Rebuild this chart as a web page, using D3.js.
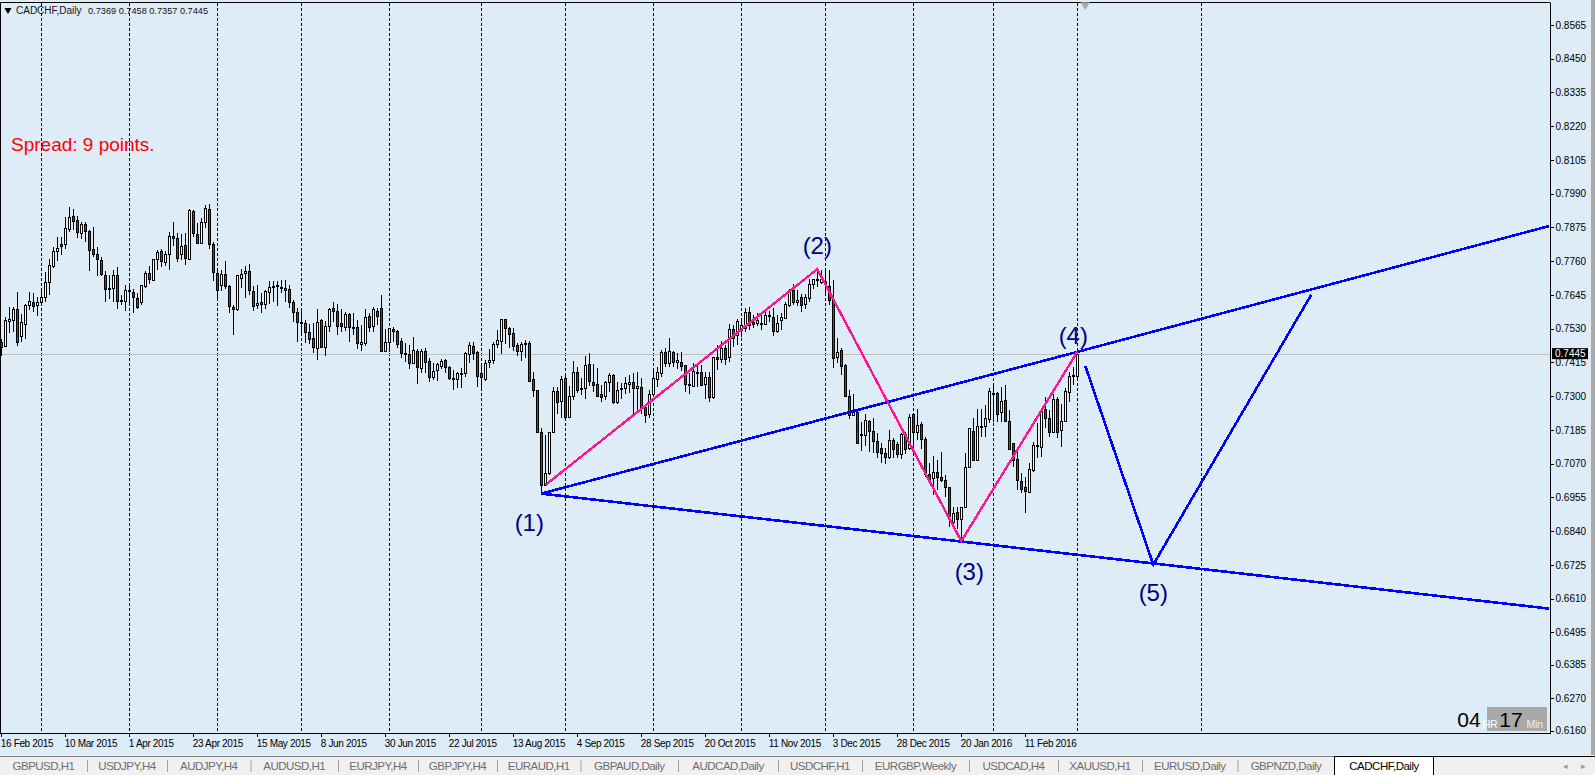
<!DOCTYPE html>
<html>
<head>
<meta charset="utf-8">
<script src="https://d3js.org/d3.v7.min.js"></script>
<style>
html,body{margin:0;padding:0;background:#f0f0f0;overflow:hidden}
svg{display:block}
text{font-family:"Liberation Sans",Arial,sans-serif}
.axis_g path,.axis_g line{stroke:#000;shape-rendering:crispEdges}
.axis_g text{font-size:10px;fill:#000;font-family:"Liberation Sans",Arial,sans-serif}
.time_axis text{letter-spacing:-0.35px}
.tab{letter-spacing:-0.5px}
</style>
</head>
<body>
<svg id="chart" width="1595" height="775"></svg>
<script>
// CADCHF daily candles, prices in pips (1/10000)
const opens = [7486,7472,7554,7560,7597,7503,7546,7609,7620,7609,7622,7637,7687,7744,7793,7819,7818,7871,7913,7900,
7855,7886,7862,7801,7784,7763,7712,7669,7667,7712,7628,7622,7661,7654,7634,7619,7674,7719,7696,7767,
7794,7759,7784,7845,7838,7784,7814,7768,7930,7852,7823,7893,7937,7817,7719,7677,7716,7674,7603,7596,
7704,7718,7726,7660,7609,7620,7613,7653,7674,7678,7671,7668,7664,7620,7586,7554,7548,7518,7497,7463,
7560,7469,7540,7599,7589,7548,7537,7580,7535,7536,7476,7482,7573,7537,7591,7599,7452,7482,7528,7521,
7488,7446,7443,7412,7454,7397,7454,7420,7367,7387,7404,7422,7398,7362,7357,7380,7378,7443,7472,7452,
7378,7360,7415,7423,7477,7486,7562,7531,7514,7474,7452,7480,7480,7357,7320,7177,6996,7037,7177,7318,
7281,7361,7230,7302,7381,7327,7327,7408,7350,7340,7306,7298,7346,7371,7278,7328,7327,7344,7347,7327,
7333,7264,7237,7306,7359,7380,7450,7412,7450,7419,7415,7406,7336,7334,7381,7384,7341,7365,7296,7432,
7427,7465,7431,7528,7507,7525,7531,7586,7554,7550,7551,7546,7575,7569,7520,7562,7566,7611,7662,7620,
7639,7613,7637,7681,7698,7692,7693,7675,7628,7434,7457,7406,7300,7236,7245,7170,7168,7215,7180,7146,
7122,7105,7090,7149,7137,7104,7171,7121,7238,7178,7205,7154,7035,7020,7041,7023,7014,6989,6872,6904,
6880,6921,7057,7181,7083,7200,7198,7221,7312,7311,7245,7286,7217,7139,7086,7011,6989,6972,7046,7132,
7128,7256,7227,7178,7292,7183,7214,7316,7372,7369];
const highs = [7495,7571,7603,7603,7655,7580,7613,7654,7651,7639,7657,7722,7768,7808,7842,7842,7910,7944,7938,7914,
7893,7893,7867,7876,7808,7776,7727,7713,7730,7739,7645,7679,7679,7664,7651,7679,7727,7744,7767,7799,
7802,7795,7861,7893,7855,7853,7855,7937,7933,7889,7906,7951,7954,7824,7730,7730,7761,7679,7611,7713,
7734,7744,7750,7676,7679,7651,7662,7694,7694,7694,7696,7696,7679,7628,7599,7599,7560,7545,7548,7597,
7563,7557,7599,7620,7614,7597,7586,7585,7582,7560,7543,7597,7582,7603,7599,7645,7529,7534,7537,7526,
7497,7480,7474,7503,7461,7461,7463,7429,7412,7412,7427,7426,7403,7389,7384,7395,7452,7484,7486,7455,
7412,7423,7461,7484,7526,7563,7564,7537,7531,7482,7484,7492,7488,7381,7321,7190,7168,7179,7330,7330,
7370,7369,7335,7420,7398,7361,7437,7446,7409,7395,7338,7352,7378,7374,7349,7344,7366,7372,7378,7383,
7361,7275,7321,7395,7398,7459,7463,7497,7454,7446,7449,7406,7378,7412,7406,7406,7383,7381,7434,7474,
7489,7474,7546,7542,7563,7565,7601,7603,7576,7582,7588,7596,7591,7599,7576,7582,7622,7667,7682,7662,
7648,7647,7698,7701,7732,7730,7728,7730,7696,7500,7463,7408,7321,7306,7253,7213,7241,7219,7224,7175,
7139,7122,7185,7156,7145,7175,7179,7241,7241,7255,7213,7162,7071,7096,7082,7111,7031,6991,6923,6923,
6923,7105,7190,7224,7255,7255,7270,7329,7335,7315,7332,7338,7253,7141,7111,7037,7026,7071,7145,7207,
7258,7298,7253,7309,7298,7275,7327,7383,7400,7458];
const lows = [7438,7466,7517,7520,7472,7486,7495,7594,7588,7574,7608,7622,7645,7738,7761,7781,7803,7858,7867,7838,
7836,7827,7725,7776,7708,7708,7622,7630,7622,7597,7611,7592,7611,7585,7596,7611,7668,7683,7694,7730,
7739,7744,7730,7812,7759,7764,7747,7764,7844,7819,7819,7872,7802,7694,7633,7657,7664,7582,7510,7592,
7668,7636,7645,7592,7596,7582,7596,7614,7622,7608,7651,7622,7599,7554,7486,7511,7482,7478,7448,7423,
7463,7437,7520,7554,7509,7520,7523,7486,7509,7460,7454,7472,7520,7520,7543,7452,7452,7452,7486,7463,
7429,7418,7392,7410,7342,7378,7380,7350,7355,7353,7392,7378,7355,7321,7327,7327,7367,7412,7423,7332,
7325,7352,7397,7410,7463,7444,7478,7463,7454,7437,7420,7429,7351,7298,7176,6963,6996,7031,7176,7241,
7224,7224,7224,7287,7310,7304,7292,7334,7315,7296,7281,7287,7315,7275,7275,7292,7307,7310,7241,7247,
7241,7207,7224,7298,7332,7366,7398,7400,7400,7391,7387,7315,7307,7332,7332,7334,7292,7281,7289,7389,
7412,7406,7417,7469,7474,7503,7520,7525,7531,7539,7525,7542,7554,7506,7516,7525,7565,7605,7611,7607,
7588,7596,7622,7667,7671,7684,7650,7611,7397,7412,7372,7302,7222,7232,7136,7113,7130,7111,7107,7091,
7071,7068,7085,7088,7088,7085,7103,7116,7122,7150,7119,7026,7014,6963,6980,7008,6957,6853,6855,6849,
6810,6918,7054,7080,7082,7162,7162,7207,7213,7213,7213,7213,7116,7060,6980,6969,6901,6971,7043,7088,
7094,7190,7162,7173,7158,7128,7211,7281,7338,7357];
const closes = [7469,7560,7562,7597,7483,7552,7611,7624,7605,7620,7639,7688,7746,7794,7804,7813,7872,7912,7895,7859,
7887,7862,7797,7784,7767,7714,7664,7664,7712,7622,7626,7661,7657,7637,7603,7678,7719,7697,7767,7791,
7759,7785,7845,7837,7769,7812,7769,7935,7854,7823,7893,7941,7818,7722,7661,7716,7674,7607,7596,7712,
7716,7726,7660,7609,7617,7612,7657,7671,7670,7676,7668,7660,7619,7586,7551,7551,7518,7494,7465,7552,
7469,7539,7597,7588,7537,7537,7580,7534,7534,7480,7484,7571,7537,7596,7574,7452,7484,7531,7520,7477,
7446,7445,7412,7457,7401,7454,7418,7367,7386,7409,7420,7397,7360,7357,7378,7379,7446,7474,7448,7369,
7364,7413,7422,7478,7490,7562,7530,7511,7469,7452,7477,7477,7351,7319,7176,6998,7037,7177,7318,7281,
7357,7227,7300,7383,7319,7323,7407,7349,7340,7298,7296,7347,7371,7278,7320,7327,7344,7350,7325,7334,
7264,7237,7306,7361,7384,7450,7414,7454,7417,7425,7400,7342,7340,7386,7380,7338,7365,7298,7432,7425,
7463,7429,7528,7497,7556,7542,7586,7542,7546,7559,7549,7576,7572,7521,7548,7571,7613,7662,7620,7628,
7613,7637,7684,7698,7695,7701,7684,7628,7431,7450,7404,7302,7235,7246,7139,7166,7218,7182,7145,7108,
7105,7091,7149,7120,7103,7171,7119,7228,7178,7202,7153,7035,7016,7040,7023,7014,6991,6889,6901,6880,
6921,7057,7190,7083,7198,7198,7224,7316,7310,7241,7282,7215,7120,7080,7013,6985,6974,7052,7132,7130,
7253,7227,7180,7290,7180,7214,7316,7369,7370,7445];

const priceTicks = [6160,6270,6385,6495,6610,6725,6840,6955,7070,7185,7300,7415,7530,7645,7760,7875,7990,8105,8220,8335,8450,8565];
const dateLabels = ["16 Feb 2015","10 Mar 2015","1 Apr 2015","23 Apr 2015","15 May 2015","8 Jun 2015","30 Jun 2015","22 Jul 2015","13 Aug 2015","4 Sep 2015","28 Sep 2015","20 Oct 2015","11 Nov 2015","3 Dec 2015","28 Dec 2015","20 Jan 2016","11 Feb 2016"];
const separatorBars = [10,32,54,75,97,120,141,163,185,206,228,248,269,300];
const tabNames = ["GBPUSD,H1","USDJPY,H4","AUDJPY,H4","AUDUSD,H1","EURJPY,H4","GBPJPY,H4","EURAUD,H1","GBPAUD,Daily","AUDCAD,Daily","USDCHF,H1","EURGBP,Weekly","USDCAD,H4","XAUUSD,H1","EURUSD,Daily","GBPNZD,Daily","CADCHF,Daily"];
const tabEdges = [0,87,167,250.5,338,418,497,580.5,678,778,862,969,1058,1142,1237.5,1334.5,1433.5];

// drawn objects, [bar, price]
const channelTop = [[135,6968],[269,7451],[387,7880]];
const channelBottom = [[135,6968],[387,6576]];
const waveBlue = [[271,7403],[288,6726],[327.5,7646]];
const wavePink = [[136,6997],[204,7733],[240,6806],[269,7451]];
const waveLabels = [["(1)",132,6870],["(2)",204,7812],["(3)",242,6703],["(4)",268,7505],["(5)",288,6629]];

const lastPrice = closes[closes.length-1];
const ohlcText = [opens,highs,lows,closes].map(a=>(a[a.length-1]/10000).toFixed(4)).join(" ");

const bg = "#deecf8";
const plotRight = 1550.5, plotBottom = 733.5, plotTop = 2.5;

const svg = d3.select("#chart");
svg.append("rect").attr("width",1591).attr("height",755).attr("fill",bg);
svg.append("rect").attr("x",1591).attr("width",4).attr("height",755).attr("fill","#a9a9a9");

const x_scale = d3.scaleLinear().domain([0,387]).range([1.3,1549.3]);
const y_scale = d3.scaleLinear().domain([6160,8565]).range([730.7,25]);
const fmt = d => (d/10000).toFixed(4);

// period separators
svg.selectAll(".sep").data(separatorBars).join("line")
  .attr("class","sep")
  .attr("x1",d=>Math.round(x_scale(d))+0.5).attr("x2",d=>Math.round(x_scale(d))+0.5)
  .attr("y1",plotTop).attr("y2",plotBottom)
  .attr("stroke","#000").attr("stroke-dasharray","3,2").attr("shape-rendering","crispEdges");

// bid line
svg.append("line").attr("x1",0).attr("x2",plotRight)
  .attr("y1",Math.round(y_scale(lastPrice))+0.5).attr("y2",Math.round(y_scale(lastPrice))+0.5)
  .attr("stroke","#c0c0c0").attr("shape-rendering","crispEdges");

// candles
const candles = svg.append("g").selectAll("g").data(d3.range(opens.length)).join("g");
candles.append("line")
  .attr("x1",i=>Math.round(x_scale(i))+0.5).attr("x2",i=>Math.round(x_scale(i))+0.5)
  .attr("y1",i=>y_scale(highs[i])).attr("y2",i=>y_scale(lows[i]))
  .attr("stroke","#000").attr("shape-rendering","crispEdges");
candles.append("rect")
  .attr("x",i=>Math.round(x_scale(i))-0.5)
  .attr("width",2)
  .attr("y",i=>Math.round(y_scale(Math.max(opens[i],closes[i])))+0.5)
  .attr("height",i=>Math.max(1,Math.round(Math.abs(y_scale(opens[i])-y_scale(closes[i])))))
  .attr("fill",i=>closes[i]>=opens[i]?"#fff":"#505050")
  .attr("stroke","#000").attr("shape-rendering","crispEdges");

// axes
const pxAxis = d3.axisRight(y_scale).tickValues(priceTicks).tickFormat(fmt).tickSize(3).tickPadding(2);
svg.append("g").attr("class","axis_g").attr("transform",`translate(${plotRight},0)`).call(pxAxis)
  .call(g=>g.select(".domain").attr("d",`M0,${plotTop}V${plotBottom}`));
const tickBars = dateLabels.map((d,i)=>i*16);
const timeAxis = d3.axisBottom(x_scale).tickValues(tickBars).tickFormat((d,i)=>dateLabels[i]).tickSize(3).tickPadding(3);
svg.append("g").attr("class","axis_g time_axis").attr("transform",`translate(0,${plotBottom})`).call(timeAxis)
  .call(g=>g.select(".domain").attr("d","M0,0H"+plotRight))
  .call(g=>g.selectAll("text").attr("text-anchor","start").attr("dx","-1").attr("dy","0.75em"));
svg.append("line").attr("x1",0.5).attr("x2",0.5).attr("y1",plotTop).attr("y2",plotBottom).attr("stroke","#000");
svg.append("line").attr("x1",0).attr("x2",plotRight).attr("y1",plotTop).attr("y2",plotTop).attr("stroke","#000");

// shift marker on top edge
svg.append("path").attr("d",d3.symbol(d3.symbolTriangle,36)())
  .attr("transform",`translate(${x_scale(271)},5) rotate(180)`).attr("fill","#a9a9a9");

// current price tag
const tag = svg.append("g").attr("transform",`translate(1552,${y_scale(lastPrice)})`);
tag.append("rect").attr("y",-5.5).attr("width",36).attr("height",11).attr("fill","#000");
tag.append("text").attr("x",3).attr("dy","0.35em").attr("font-size",10).attr("fill","#fff").text(fmt(lastPrice));

// objects
const line = d3.line().x(d=>x_scale(d[0])).y(d=>y_scale(d[1]));
[channelTop,channelBottom,waveBlue].forEach(p=>{
  svg.append("path").attr("d",line(p)).attr("fill","none").attr("stroke","#0000ff").attr("stroke-width",2.6).attr("shape-rendering","crispEdges");
});
svg.append("path").attr("d",line(wavePink)).attr("fill","none").attr("stroke","#ff1493").attr("stroke-width",2.4).attr("shape-rendering","crispEdges");

svg.selectAll(".wave_label").data(waveLabels).join("text")
  .attr("class","wave_label")
  .attr("x",d=>x_scale(d[1])).attr("y",d=>y_scale(d[2]))
  .attr("dy","0.35em").attr("text-anchor","middle")
  .attr("font-size",24).attr("fill","#000080")
  .text(d=>d[0]);

// header and comment
svg.append("path").attr("d",d3.symbol(d3.symbolTriangle,22)()).attr("transform","translate(8,10) rotate(180)").attr("fill","#000");
svg.append("text").attr("x",16).attr("y",14).attr("font-size",10).attr("fill","#111").text("CADCHF,Daily");
svg.append("text").attr("x",88).attr("y",14).attr("font-size",9.2).attr("fill","#111").text(ohlcText);
svg.append("text").attr("x",11).attr("y",151).attr("font-size",19).attr("fill","#ff0000").text("Spread: 9 points.");

// bar timer
svg.append("rect").attr("x",1487).attr("y",707).attr("width",60).attr("height",24).attr("fill","#a9a9a9");
const timer = svg.append("g").attr("text-anchor","middle");
timer.append("text").attr("x",1469).attr("y",727).attr("font-size",21).attr("fill","#000").text("04");
timer.append("text").attr("x",1490).attr("y",728).attr("font-size",10.5).attr("letter-spacing",-0.3).attr("fill","#fff").text("HR");
timer.append("text").attr("x",1511).attr("y",727).attr("font-size",21).attr("fill","#000").text("17");
timer.append("text").attr("x",1534.5).attr("y",728).attr("font-size",10.5).attr("letter-spacing",-0.3).attr("fill","#eee").text("Min");

// tab bar
svg.append("rect").attr("y",755).attr("width",1595).attr("height",20).attr("fill","#f0f0f0");
const active = tabNames.length-1;
svg.append("line").attr("x1",0).attr("x2",tabEdges[active]).attr("y1",756.5).attr("y2",756.5).attr("stroke","#808080");
svg.append("line").attr("x1",tabEdges[active]).attr("x2",1595).attr("y1",756.5).attr("y2",756.5).attr("stroke","#000");
svg.append("rect").attr("x",tabEdges[active]).attr("y",756.5).attr("width",tabEdges[active+1]-tabEdges[active]).attr("height",19).attr("fill","#fff").attr("stroke","#000");
svg.selectAll(".tab").data(tabNames).join("text")
  .attr("class","tab")
  .attr("x",(d,i)=>(tabEdges[i]+tabEdges[i+1])/2).attr("y",770)
  .attr("text-anchor","middle").attr("font-size",11.5)
  .attr("fill",(d,i)=>i===active?"#000":"#6d6d6d")
  .text(d=>d);
svg.selectAll(".tab_sep").data(tabEdges.slice(1,active)).join("line")
  .attr("class","tab_sep")
  .attr("x1",d=>d+0.5).attr("x2",d=>d+0.5).attr("y1",760).attr("y2",772)
  .attr("stroke","#a0a0a0");
svg.append("text").attr("x",1565).attr("y",769).attr("text-anchor","middle").attr("font-size",9).attr("fill","#999").text("◂");
svg.append("text").attr("x",1583).attr("y",769).attr("text-anchor","middle").attr("font-size",9).attr("fill","#999").text("▸");
</script>
</body>
</html>
